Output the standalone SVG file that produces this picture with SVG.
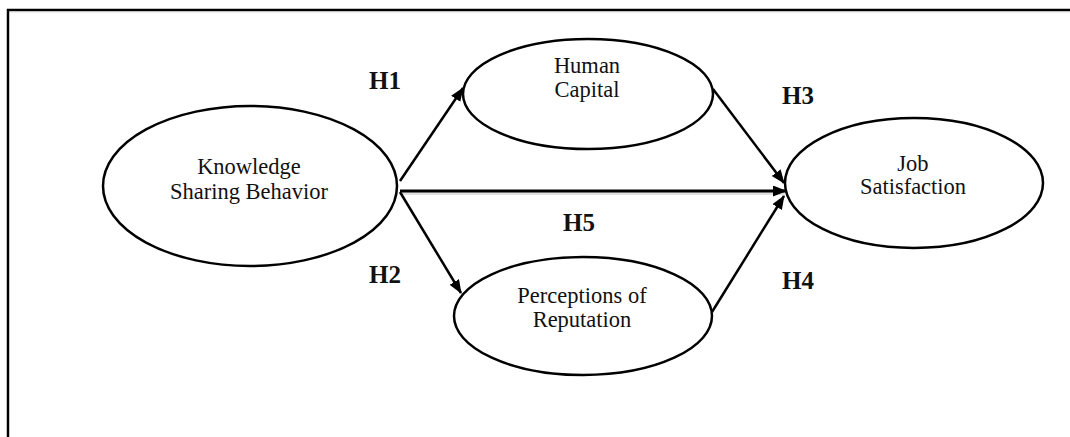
<svg xmlns="http://www.w3.org/2000/svg" width="1070" height="437" viewBox="0 0 1070 437">
  <style>
    .node ellipse { fill: #ffffff; stroke: #000000; stroke-width: 2.5; }
    .node text { font-family: "Liberation Serif", "DejaVu Serif", serif; font-size: 22.5px; fill: #111111; text-anchor: middle; }
    .conn { stroke: #000000; stroke-width: 2.5; fill: none; marker-end: url(#arrow); }
    .lbl { font-family: "Liberation Serif", "DejaVu Serif", serif; font-size: 25px; font-weight: bold; fill: #111111; text-anchor: middle; }
  </style>
  <defs>
    <marker id="arrow" markerUnits="userSpaceOnUse" markerWidth="15" markerHeight="12" refX="13" refY="5.5" orient="auto">
      <path d="M0,0 L14,5.5 L0,11 Z" fill="#000000"/>
    </marker>
  </defs>
  <rect width="1070" height="437" fill="#ffffff"/>
  <!-- frame -->
  <path d="M8,437 L8,10 L1075,10" fill="none" stroke="#000000" stroke-width="2.5"/>
  <path d="M9.5,437 L9.5,12 L1075,12" fill="none" stroke="#c8c8c8" stroke-width="1" opacity="0.6"/>

  <g id="connectors">
    <line x1="400" y1="193" x2="785" y2="193" stroke="#d4d4d4" stroke-width="4" opacity="0.7"/>
    <rect x="541" y="196" width="80" height="9" fill="#ffffff"/>
    <line class="conn" x1="400" y1="181" x2="463" y2="88"/>
    <line class="conn" x1="400" y1="192" x2="461" y2="293"/>
    <line class="conn" x1="400" y1="191" x2="786" y2="191" style="stroke-width:3"/>
    <line class="conn" x1="713" y1="89" x2="784" y2="183"/>
    <line class="conn" x1="712" y1="312" x2="784" y2="196"/>
  </g>

  <g id="node-ksb" class="node">
    <ellipse cx="250" cy="186" rx="147" ry="80"/>
    <text x="249" y="174">Knowledge</text>
    <text x="249" y="199">Sharing Behavior</text>
  </g>
  <g id="node-hc" class="node">
    <ellipse cx="588" cy="94" rx="125" ry="55"/>
    <text x="587" y="73">Human</text>
    <text x="587" y="97">Capital</text>
  </g>
  <g id="node-por" class="node">
    <ellipse cx="583" cy="316" rx="129" ry="59"/>
    <text x="582" y="303">Perceptions of</text>
    <text x="582" y="327">Reputation</text>
  </g>
  <g id="node-js" class="node">
    <ellipse cx="914" cy="183" rx="129" ry="65"/>
    <text x="913" y="171">Job</text>
    <text x="913" y="194">Satisfaction</text>
  </g>

  <g id="labels">
    <text class="lbl" x="385" y="89">H1</text>
    <text class="lbl" x="385" y="283">H2</text>
    <text class="lbl" x="798" y="104">H3</text>
    <text class="lbl" x="798" y="289">H4</text>
    <text class="lbl" x="579" y="231">H5</text>
  </g>
</svg>
